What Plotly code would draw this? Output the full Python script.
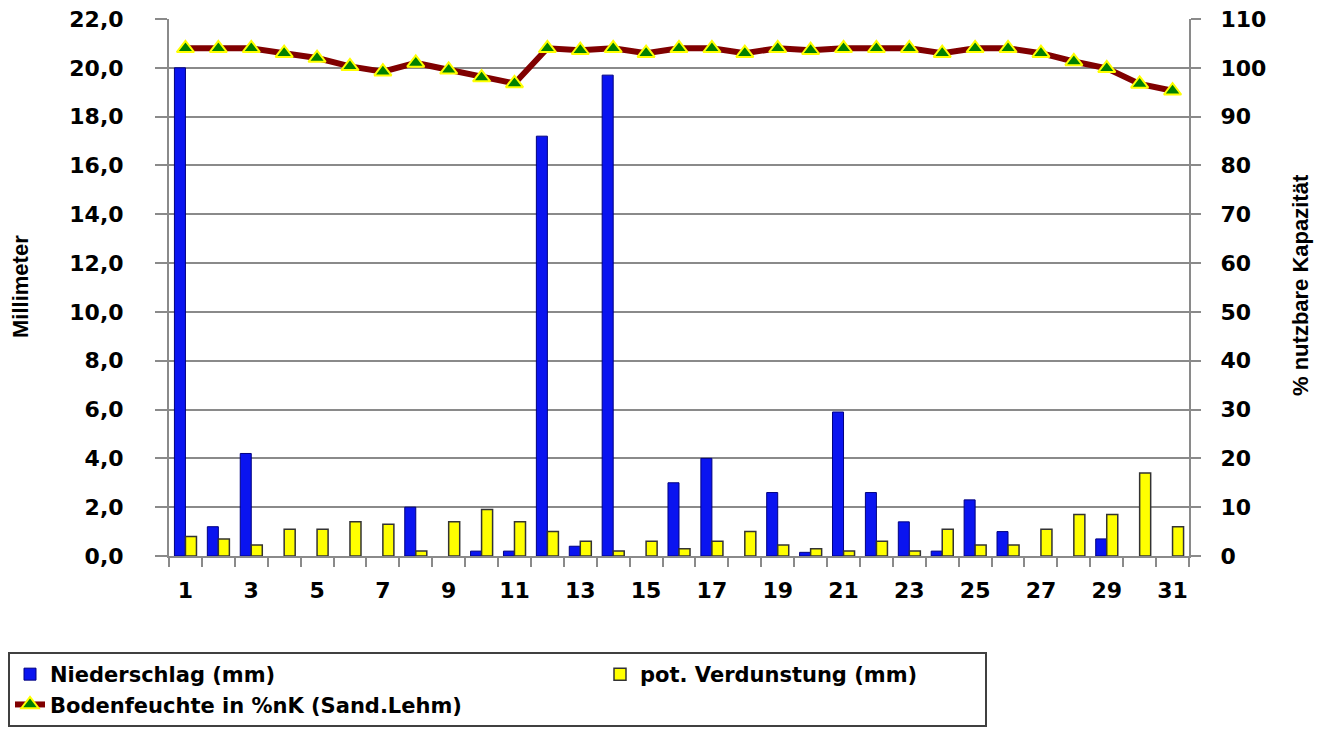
import plotly.graph_objects as go

days = [str(d) for d in range(1, 32)]
tick_labels = [d if int(d) % 2 == 1 else "" for d in days]

niederschlag = [20.0, 1.2, 4.2, 0.0, 0.0, 0.0, 0.0, 2.0, 0.0, 0.2,
                0.2, 17.2, 0.4, 19.7, 0.0, 3.0, 4.0, 0.0, 2.6, 0.15,
                5.9, 2.6, 1.4, 0.2, 2.3, 1.0, 0.0, 0.0, 0.7, 0.0, 0.0]

verdunstung = [0.8, 0.7, 0.45, 1.1, 1.1, 1.4, 1.3, 0.2, 1.4, 1.9,
               1.4, 1.0, 0.6, 0.2, 0.6, 0.3, 0.6, 1.0, 0.45, 0.3,
               0.2, 0.6, 0.2, 1.1, 0.45, 0.45, 1.1, 1.7, 1.7, 3.4, 1.2]

bodenfeuchte = [104, 104, 104, 103, 102, 100.3, 99.2, 101, 99.6, 98, 96.8,
                104, 103.6, 104, 103, 104, 104, 103, 104, 103.6,
                104, 104, 104, 103, 104, 104, 103, 101.3, 99.9, 96.7, 95.3]

left_ticks = [0, 2, 4, 6, 8, 10, 12, 14, 16, 18, 20, 22]
right_ticks = [0, 10, 20, 30, 40, 50, 60, 70, 80, 90, 100, 110]

FONT = "DejaVu Sans"
GRID = "#8a8a8a"
PAGE_OFFSET = 8  # default body margin of the html page


def hide_zero(values):
    return [v if v > 0 else None for v in values]


fig = go.Figure()
fig.add_trace(go.Bar(
    x=days, y=hide_zero(niederschlag), name="Niederschlag (mm)",
    marker=dict(color="#0a14f0", line=dict(color="#000080", width=1)),
    legendwidth=545,
))
fig.add_trace(go.Bar(
    x=days, y=hide_zero(verdunstung), name="pot. Verdunstung (mm)",
    marker=dict(color="#ffff00", line=dict(color="#333333", width=1.5)),
    legendwidth=340,
))
fig.add_trace(go.Scatter(
    x=days, y=bodenfeuchte, name="Bodenfeuchte in %nK (Sand.Lehm)",
    yaxis="y2", mode="lines+markers",
    line=dict(color="#800000", width=6),
    marker=dict(symbol="triangle-up", size=15, color="#008000",
                line=dict(color="#ffff00", width=2)),
    legendwidth=545,
))

plot_l, plot_t, plot_w, plot_h = 169 - PAGE_OFFSET, 19 - PAGE_OFFSET, 1020, 537


def px_x(page_x):
    return (page_x - 169) / plot_w


def px_y(page_y):
    return (556 - page_y) / plot_h


fig.update_layout(
    width=1330, height=733,
    margin=dict(l=plot_l, r=1330 - plot_l - plot_w, t=plot_t,
                b=733 - plot_t - plot_h, autoexpand=False),
    paper_bgcolor="white", plot_bgcolor="white",
    separators=",.",
    barmode="group", bargap=0.33, bargroupgap=0,
    font=dict(family=FONT, size=20, color="black"),
    showlegend=True,
    legend=dict(
        orientation="h", x=px_x(8), xanchor="left",
        y=px_y(652), yanchor="top",
        bgcolor="white", bordercolor="#404040", borderwidth=2,
        font=dict(family=FONT, size=21, color="black", weight="bold"),
        traceorder="normal",
    ),
    xaxis=dict(
        type="category", tickvals=days, ticktext=tick_labels, tickangle=0,
        tickson="boundaries", ticks="outside", ticklen=9, tickcolor=GRID,
        tickwidth=2, showline=True, linecolor=GRID, linewidth=2,
        showgrid=False, ticklabelstandoff=14, automargin=False,
        ticklabeloverflow="allow",
        tickfont=dict(family=FONT, size=22, color="black", weight="bold"),
        range=[-0.5, 30.5],
    ),
    yaxis=dict(
        range=[0, 22], tickvals=left_ticks, tickformat=".1f",
        showgrid=True, gridcolor=GRID, gridwidth=2,
        showline=True, linecolor=GRID, linewidth=2,
        ticks="outside", ticklen=12, tickcolor=GRID, tickwidth=2,
        ticklabelstandoff=27, zeroline=False, automargin=False,
        ticklabeloverflow="allow",
        tickfont=dict(family=FONT, size=22, color="black", weight="bold"),
    ),
    yaxis2=dict(
        range=[0, 110], tickvals=right_ticks, overlaying="y", side="right",
        showgrid=False, showline=True, linecolor=GRID, linewidth=2,
        ticks="outside", ticklen=10, tickcolor=GRID, tickwidth=2,
        ticklabelstandoff=15, zeroline=False, automargin=False,
        ticklabeloverflow="allow",
        tickfont=dict(family=FONT, size=22, color="black", weight="bold"),
    ),
    annotations=[
        dict(text="Millimeter", xref="paper", yref="paper",
             x=px_x(20), y=px_y(287), textangle=-90,
             showarrow=False, xanchor="center", yanchor="middle",
             font=dict(family="Liberation Sans", size=22,
                       color="black", weight="bold")),
        dict(text="% nutzbare Kapazität", xref="paper", yref="paper",
             x=px_x(1300), y=px_y(285), textangle=-90,
             showarrow=False, xanchor="center", yanchor="middle",
             font=dict(family="Liberation Sans", size=22,
                       color="black", weight="bold")),
    ],
)

fig.write_html("out.html")
